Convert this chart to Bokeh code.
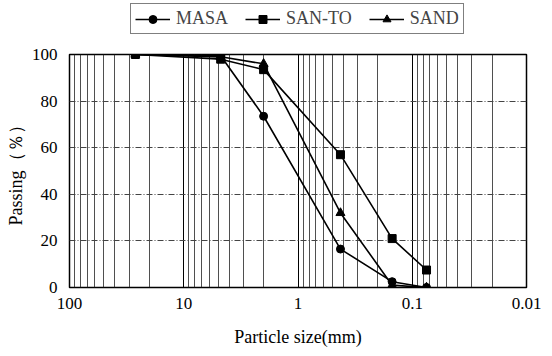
from bokeh.plotting import figure
from bokeh.models import Range1d, FixedTicker, Legend, LegendItem
from bokeh.layouts import column
from bokeh.embed import file_html
from bokeh.resources import INLINE

sizes = [26.5, 4.75, 2.0, 0.425, 0.15, 0.075]
masa = [100, 99.5, 73.5, 16.5, 2.5, 0]
santo = [100, 98, 93.5, 57, 21, 7.5]
sand = [100, 99, 96, 32, 1, 0]
x_ticks = [100, 10, 1, 0.1, 0.01]
x_labels = ["100", "10", "1", "0.1", "0.01"]
y_ticks = [0, 20, 40, 60, 80, 100]
series_names = ["MASA", "SAN-TO", "SAND"]
markers = ["circle", "square", "triangle"]
marker_sizes = [8, 8, 9]

FONT = "Liberation Serif"

p = figure(width=552, height=312, x_axis_type="log",
           x_range=Range1d(100, 0.01), y_range=Range1d(0, 100),
           output_backend="svg", toolbar_location=None,
           min_border_left=69, min_border_right=26, min_border_top=10, min_border_bottom=69)

minor = []
for d in [10, 1, 0.1, 0.01]:
    for m in range(2, 10):
        minor.append(d * m)
p.xaxis.ticker = FixedTicker(ticks=x_ticks, minor_ticks=minor)
p.xaxis.major_label_overrides = {t: l for t, l in zip(x_ticks, x_labels)}
p.yaxis.ticker = FixedTicker(ticks=y_ticks)

for ax in [p.xaxis[0], p.yaxis[0]]:
    ax.axis_line_color = None
    ax.major_tick_line_color = None
    ax.minor_tick_line_color = None
    ax.major_label_text_font = FONT
    ax.major_label_text_font_size = "17px"
    ax.major_label_text_color = "black"
    ax.axis_label_text_font = FONT
    ax.axis_label_text_font_size = "18px"
    ax.axis_label_text_font_style = "normal"
    ax.axis_label_text_color = "black"

p.xaxis.axis_label = "Particle size(mm)"
p.yaxis.axis_label = "Passing（％）"
p.xaxis.major_label_standoff = 4
p.xaxis.axis_label_standoff = 15
p.yaxis.major_label_standoff = 6
p.yaxis.axis_label_standoff = 3

p.xgrid.grid_line_color = "black"
p.xgrid.grid_line_width = 1
p.xgrid.minor_grid_line_color = "#222222"
p.xgrid.minor_grid_line_width = 0.8
p.ygrid.grid_line_color = "#444444"
p.ygrid.grid_line_dash = "6 2 1 2"
p.ygrid.grid_line_width = 1

p.outline_line_color = "black"
p.outline_line_width = 1.5
p.background_fill_color = "white"
p.border_fill_color = "white"

for vals, mk, ms in zip([masa, santo, sand], markers, marker_sizes):
    p.line(sizes, vals, line_color="black", line_width=1.6)
    p.scatter(sizes, vals, marker=mk, size=ms, color="black")

# legend strip above the chart (its frame is aligned with the main frame by the column)
lg = figure(width=552, height=44, x_range=Range1d(0, 1), y_range=Range1d(0, 1),
            output_backend="svg", toolbar_location=None,
            x_axis_location=None, y_axis_location=None,
            min_border_left=0, min_border_right=0, min_border_top=0, min_border_bottom=0)
lg.grid.visible = False
lg.outline_line_color = None
items = []
for name, mk, ms in zip(series_names, markers, marker_sizes):
    rl = lg.line([5, 6], [5, 6], line_color="black", line_width=1.6)
    rm = lg.scatter([5], [5], marker=mk, size=ms, color="black")
    items.append(LegendItem(label=name, renderers=[rl, rm]))
legend = Legend(items=items, orientation="horizontal", location=(61, 10))
legend.label_text_font = FONT
legend.label_text_font_size = "18px"
legend.border_line_color = "black"
legend.border_line_width = 1
legend.glyph_width = 35
legend.spacing = 17
legend.padding = 4
legend.margin = 0
legend.label_standoff = 6
lg.add_layout(legend, "center")

layout = column(lg, p, spacing=0)
open("out.html", "w").write(file_html(layout, INLINE))
